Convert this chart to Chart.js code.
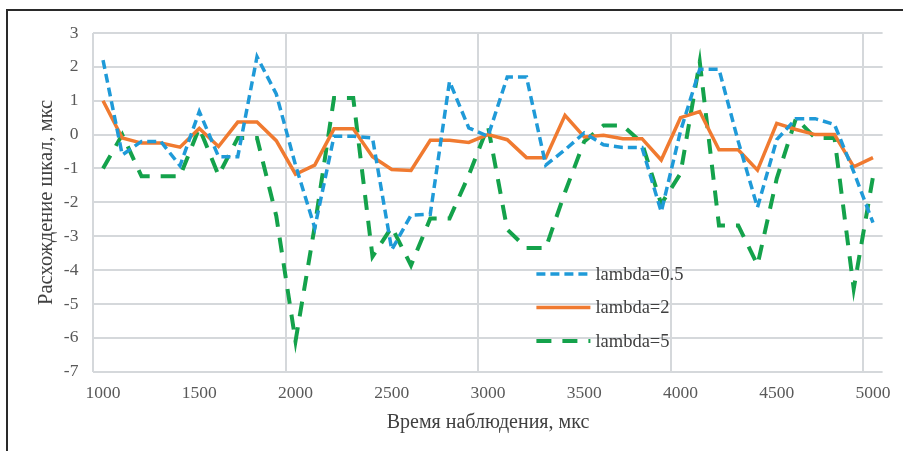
<!DOCTYPE html>
<html>
<head>
<meta charset="utf-8">
<script src="https://cdn.jsdelivr.net/npm/chart.js@4/dist/chart.umd.min.js"></script>
<style>
  html, body { margin: 0; padding: 0; background: #fff; }
  #wrap { position: relative; width: 903px; height: 451px; }
  #frame { position: absolute; left: 6px; top: 9px; right: -10px; bottom: -10px;
           border-left: 2px solid #2a2a2a; border-top: 2px solid #2a2a2a; }
  canvas { position: absolute; left: 0; top: 0; }
</style>
</head>
<body>
<div id="wrap">
  <div id="frame"></div>
  <canvas id="chart" width="903" height="451"></canvas>
</div>
<script>
// time of observation, categories
const times = [1000, 1100, 1200, 1300, 1400, 1500, 1600, 1700, 1800, 1900,
  2000, 2100, 2200, 2300, 2400, 2500, 2600, 2700, 2800, 2900,
  3000, 3100, 3200, 3300, 3400, 3500, 3600, 3700, 3800, 3900,
  4000, 4100, 4200, 4300, 4400, 4500, 4600, 4700, 4800, 4900, 5000];

const lambda05 = [2.2, -0.6, -0.2, -0.2, -0.92, 0.68, -0.65, -0.65, 2.3, 1.2,
  -0.9, -2.75, -0.05, -0.05, -0.1, -3.4, -2.38, -2.35, 1.57, 0.2,
  -0.05, 1.7, 1.7, -0.9, -0.45, 0.05, -0.3, -0.38, -0.38, -2.28,
  0.1, 1.93, 1.93, -0.2, -2.15, -0.15, 0.47, 0.47, 0.3, -1.1, -2.6];

const lambda2 = [1.0, -0.1, -0.25, -0.25, -0.37, 0.18, -0.35, 0.37, 0.37, -0.18,
  -1.17, -0.9, 0.17, 0.17, -0.65, -1.03, -1.06, -0.17, -0.17, -0.23,
  0.0, -0.15, -0.68, -0.68, 0.57, -0.07, -0.02, -0.12, -0.12, -0.75,
  0.5, 0.68, -0.45, -0.45, -1.05, 0.33, 0.15, 0.0, 0.0, -0.95, -0.68];

const lambda5 = [-1.0, 0.0, -1.23, -1.23, -1.23, 0.2, -1.2, -0.1, -0.1, -2.4,
  -6.1, -2.7, 1.08, 1.08, -3.6, -2.73, -3.86, -2.48, -2.48, -1.2,
  0.25, -2.8, -3.35, -3.35, -1.7, -0.2, 0.27, 0.27, -0.25, -2.05,
  -1.15, 2.15, -2.68, -2.68, -3.85, -1.3, 0.48, -0.1, -0.1, -4.55, -1.25];

const seriesNames = ['lambda=0.5', 'lambda=2', 'lambda=5'];

const SERIF = '"Liberation Serif", "Times New Roman", serif';
const gridColor = '#d5d8db';

// legend drawn inside the plot area
const innerLegend = {
  id: 'innerLegend',
  afterDatasetsDraw(chart) {
    const { ctx, chartArea } = chart;
    const x0 = chartArea.left + 443;
    const y0 = chartArea.top + 241;
    ctx.save();
    ctx.font = '18.5px ' + SERIF;
    ctx.textBaseline = 'middle';
    ctx.fillStyle = '#404040';
    chart.data.datasets.forEach((ds, i) => {
      const y = y0 + i * 33.5;
      ctx.strokeStyle = ds.borderColor;
      ctx.lineWidth = ds.borderWidth;
      ctx.setLineDash(ds.borderDash || []);
      ctx.beginPath();
      ctx.moveTo(x0, y);
      ctx.lineTo(x0 + 54, y);
      ctx.stroke();
      ctx.fillText(ds.label, x0 + 59, y + 1);
    });
    ctx.restore();
  }
};

new Chart(document.getElementById('chart'), {
  type: 'line',
  data: {
    labels: times,
    datasets: [
      { label: seriesNames[0], data: lambda05, borderColor: '#1f9ad8', borderWidth: 3.5, borderDash: [9, 5] },
      { label: seriesNames[1], data: lambda2, borderColor: '#f07a30', borderWidth: 3.5 },
      { label: seriesNames[2], data: lambda5, borderColor: '#14a24b', borderWidth: 4, borderDash: [15, 11] }
    ]
  },
  plugins: [innerLegend],
  options: {
    responsive: false,
    animation: false,
    layout: { padding: { left: 0, right: 20.4, top: 33, bottom: 0 } },
    elements: { point: { radius: 0 }, line: { tension: 0, fill: false } },
    plugins: { legend: { display: false }, tooltip: { enabled: false } },
    scales: {
      x: {
        offset: true,
        afterFit: s => { s.height = 79.3; },
        grid: {
          offset: true,
          drawTicks: false,
          lineWidth: 2,
          color: c => (c.index % 10 === 0 ? gridColor : 'rgba(0,0,0,0)')
        },
        border: { display: false },
        ticks: {
          autoSkip: false,
          maxRotation: 0,
          minRotation: 0,
          padding: 11,
          color: '#595959',
          font: { family: SERIF, size: 17.5 },
          callback: function (v, i) { return i % 5 === 0 ? this.getLabelForValue(v) : ''; }
        },
        title: {
          display: true,
          text: 'Время наблюдения, мкс',
          color: '#404040',
          font: { family: SERIF, size: 20 },
          padding: { top: 0, bottom: 16 }
        }
      },
      y: {
        min: -7,
        max: 3,
        afterFit: s => { s.width = 93.4; },
        grid: { drawTicks: false, lineWidth: 2, color: gridColor },
        border: { display: false },
        ticks: {
          stepSize: 1,
          padding: 15,
          color: '#595959',
          font: { family: SERIF, size: 17.5 }
        },
        title: {
          display: true,
          text: 'Расхождение шкал, мкс',
          color: '#404040',
          font: { family: SERIF, size: 20.5 },
          padding: { top: 34, bottom: 0 }
        }
      }
    }
  }
});
</script>
</body>
</html>
